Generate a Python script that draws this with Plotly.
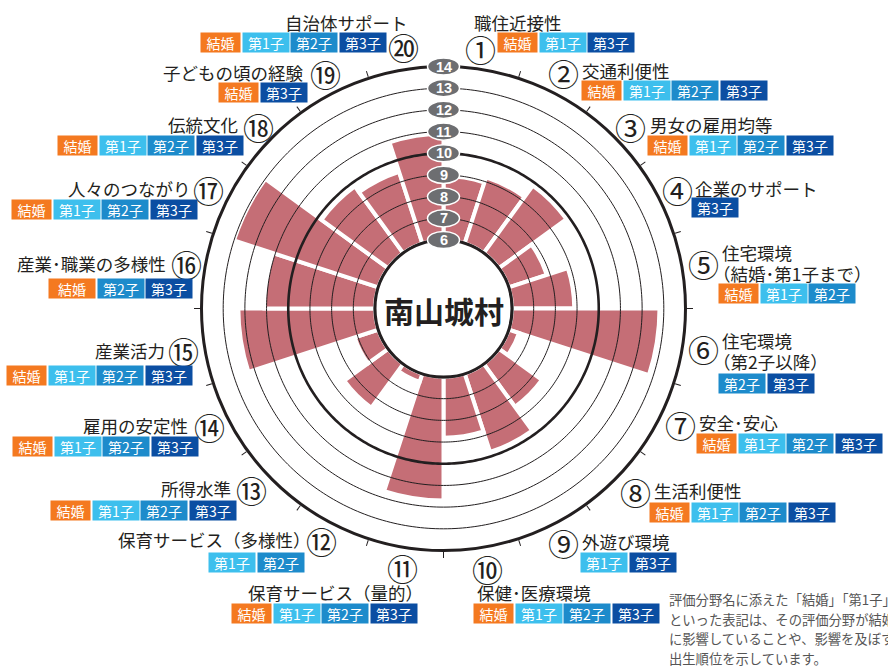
import numpy as np
import plotly.graph_objects as go

W, H = 888, 666

# ---- data -------------------------------------------------------------
categories = [
    "職住近接性", "交通利便性", "男女の雇用均等", "企業のサポート",
    "住宅環境\n（結婚･第1子まで）", "住宅環境\n（第2子以降）", "安全･安心", "生活利便性",
    "外遊び環境", "保健･医療環境", "保育サービス（量的）", "保育サービス（多様性）",
    "所得水準", "雇用の安定性", "産業活力", "産業･職業の多様性",
    "人々のつながり", "伝統文化", "子どもの頃の経験", "自治体サポート",
]
scores = [8.95, 9.2, 9.85, 7.85, 8.87, 12.8, 6.5, 8.45, 9.8, 8.8,
          11.7, 6.4, 8.5, 7.15, 12.3, 11.1, 13.0, 9.8, 9.47, 10.9]
badges = [
    ["結婚", "第1子", "第3子"],
    ["結婚", "第1子", "第2子", "第3子"],
    ["結婚", "第1子", "第2子", "第3子"],
    ["第3子"],
    ["結婚", "第1子", "第2子"],
    ["第2子", "第3子"],
    ["結婚", "第1子", "第2子", "第3子"],
    ["結婚", "第1子", "第2子", "第3子"],
    ["第1子", "第3子"],
    ["結婚", "第1子", "第2子", "第3子"],
    ["結婚", "第1子", "第2子", "第3子"],
    ["第1子", "第2子"],
    ["結婚", "第1子", "第2子", "第3子"],
    ["結婚", "第1子", "第2子", "第3子"],
    ["結婚", "第1子", "第2子", "第3子"],
    ["結婚", "第2子", "第3子"],
    ["結婚", "第1子", "第2子", "第3子"],
    ["結婚", "第1子", "第2子", "第3子"],
    ["結婚", "第3子"],
    ["結婚", "第1子", "第2子", "第3子"],
]
radial_ticks = [6, 7, 8, 9, 10, 11, 12, 13, 14]
circled_nums = list("①②③④⑤⑥⑦⑧⑨⑩⑪⑫⑬⑭⑮⑯⑰⑱⑲⑳")
center_title = "南山城村"
footnote = [
    "評価分野名に添えた「結婚」「第1子」",
    "といった表記は、その評価分野が結婚",
    "に影響していることや、影響を及ぼす",
    "出生順位を示しています。",
]

# ---- styling ----------------------------------------------------------
FONT = "Noto Sans CJK JP"
INK = "#231f20"
BAR = "#c56e76"
PILL = "#6d6e71"
BADGE_COLORS = {"結婚": "#f47920", "第1子": "#3dbfed", "第2子": "#1d8bcb", "第3子": "#0b4ea2"}

# polar geometry (pixels)
CX, CY, R_OUT, R_HOLE = 443.5, 308.5, 242.0, 68.5
R_MIN, R_MAX = radial_ticks[0], radial_ticks[-1]
K = (R_OUT - R_HOLE) / (R_MAX - R_MIN)   # pixels per radial unit

def px(x):
    return x / W

def py(y):
    return 1 - y / H

n = len(scores)
step = 360 / n
theta = [step / 2 + step * i for i in range(n)]

fig = go.Figure()

# bars
fig.add_trace(go.Barpolar(
    r=[s - R_MIN for s in scores], base=R_MIN, theta=theta, width=step,
    marker=dict(color=BAR, line=dict(color="white", width=4)),
    text=categories, hoverinfo="text+r", showlegend=False,
))

# reference rings drawn over the bars
ring_theta = np.arange(0, 361, 1)
for v in radial_ticks[:-1]:
    bold = v in (6, 10)
    fig.add_trace(go.Scatterpolar(
        r=[v] * len(ring_theta), theta=ring_theta, mode="lines",
        line=dict(color=INK, width=2.6 if bold else 1.0),
        hoverinfo="skip", showlegend=False,
    ))

# helper axes aligned with the radial scale along the 12 o'clock direction
fig.add_trace(go.Scatter(
    x=[0] * len(radial_ticks), y=radial_ticks, mode="markers",
    marker=dict(size=1, opacity=0), hoverinfo="skip", showlegend=False,
    xaxis="x", yaxis="y",
))

shapes = []
annotations = []
for v in radial_ticks:
    shapes.append(dict(
        type="circle", xref="x", yref="y", xsizemode="pixel", ysizemode="pixel",
        xanchor=0, yanchor=v, x0=-16, x1=16, y0=-8.6, y1=8.6,
        fillcolor=PILL, line=dict(color="white", width=1.5), layer="above",
    ))
    annotations.append(dict(
        x=0, y=v, xref="x", yref="y", text=f"<b>{v}</b>", showarrow=False,
        font=dict(family="Liberation Sans", size=14.5, color="white"),
        xanchor="center", yanchor="middle",
    ))

# centre title
annotations.append(dict(
    x=px(CX), y=py(CY + 1), xref="paper", yref="paper", text=f"<b>{center_title}</b>",
    showarrow=False, font=dict(family=FONT, size=30, color=INK),
    xanchor="center", yanchor="middle",
))

# label placement: (num_x, num_y, text_x, text_y, side, badge_x, badge_y)
label_pos = [
    (480, 47, 472, 22, "left", 498, 42.5),
    (563, 71, 580, 71, "left", 582, 90.5),
    (630, 125, 648, 125, "left", 648, 145),
    (677, 188, 693, 188, "left", 692, 207.5),
    (703, 263, 720, 252, "left", 719, 293),
    (703, 347, 720, 340, "left", 719, 383),
    (680, 423, 697, 423, "left", 697, 443.5),
    (635, 490, 652, 490, "left", 650, 512.5),
    (563, 541, 580, 541, "left", 581, 562.5),
    (487, 567, 475, 592, "left", 474, 613.5),
    (402, 566, 425, 592, "right", 232, 613.5),
    (321, 539, 313, 539, "right", 209, 562),
    (251, 488, 233, 488, "right", 51, 510.5),
    (209, 425, 190, 425, "right", 13, 446.5),
    (183, 350, 167, 350, "right", 7, 375),
    (186, 263, 168, 263, "right", 49, 288.5),
    (208, 188, 193, 188, "right", 12, 209.5),
    (258, 125, 240, 125, "right", 58, 145.5),
    (325, 72, 305, 72, "right", 219, 92.5),
    (403, 45, 410, 23, "right", 201, 42.5),
]
wide_marriage = {15}

for i, (nx, ny, tx, ty, side, bx, by) in enumerate(label_pos):
    annotations.append(dict(
        x=px(nx), y=py(ny + 1), xref="paper", yref="paper", text=circled_nums[i],
        showarrow=False, font=dict(family=FONT, size=31, color=INK),
        xanchor="center", yanchor="middle",
    ))
    for k, line in enumerate(categories[i].split("\n")):
        # full-width opening parenthesis carries blank space on its left half
        dx = -9 if line.startswith("（") else 0
        annotations.append(dict(
            x=px(tx + dx), y=py(ty + 21 * k), xref="paper", yref="paper", text=line,
            showarrow=False, font=dict(family=FONT, size=17.5, color=INK),
            xanchor=side, yanchor="middle",
        ))
    x = bx
    for b in badges[i]:
        w = 39 if (b == "結婚" and i not in wide_marriage) else 46
        annotations.append(dict(
            x=px(x + w / 2), y=py(by), xref="paper", yref="paper", text=b,
            showarrow=False, font=dict(family=FONT, size=14, color="white"),
            bgcolor=BADGE_COLORS[b], width=w, height=19, borderpad=0,
            xanchor="center", yanchor="middle",
        ))
        x += w + 2.5

for k, line in enumerate(footnote):
    annotations.append(dict(
        x=px(667), y=py(599.5 + 19.7 * k), xref="paper", yref="paper", text=line,
        showarrow=False, font=dict(family=FONT, size=13.3, color="#555555"),
        xanchor="left", yanchor="middle",
    ))

# helper y axis spans one extra unit on each side so the end pills are not clipped
PAD = 1
x_dom = [px(CX - R_OUT), px(CX + R_OUT)]
y_dom = [py(CY - R_HOLE + PAD * K), py(CY - R_OUT - PAD * K)]
fig.update_layout(
    width=W, height=H, margin=dict(l=0, r=0, t=0, b=0),
    paper_bgcolor="white", plot_bgcolor="rgba(0,0,0,0)", showlegend=False,
    polar=dict(
        domain=dict(x=x_dom, y=[py(CY + R_OUT), py(CY - R_OUT)]),
        hole=R_HOLE / R_OUT, bgcolor="white",
        radialaxis=dict(range=[R_MIN, R_MAX], visible=False, showgrid=False),
        angularaxis=dict(
            rotation=90, direction="clockwise",
            tickmode="array", tickvals=[step * i for i in range(n)],
            ticks="outside", ticklen=6, tickwidth=1.2, tickcolor=INK,
            showticklabels=False, showgrid=False,
            showline=True, linecolor=INK, linewidth=3,
        ),
    ),
    xaxis=dict(domain=x_dom, range=[-1, 1], visible=False, fixedrange=True),
    yaxis=dict(domain=y_dom, range=[R_MIN - PAD, R_MAX + PAD],
               visible=False, fixedrange=True),
    shapes=shapes, annotations=annotations,
)

fig.write_html("out.html")
